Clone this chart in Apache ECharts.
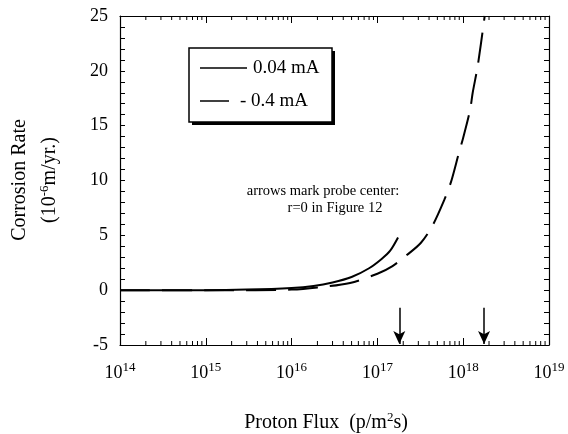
<!DOCTYPE html>
<html>
<head>
<meta charset="utf-8">
<script src="https://cdn.jsdelivr.net/npm/echarts@6/dist/echarts.min.js"></script>
<style>
  html, body { margin: 0; padding: 0; background: #fff; }
  #chart { width: 568px; height: 434px; }
</style>
</head>
<body>
<div id="chart"></div>
<script>
// proton flux (p/m^2 s) and corrosion rate (1e-6 m/yr)
const fluxLow = [1e14, 3e14, 1e15, 3e15, 1e16, 1.8e16, 3e16, 5e16, 8e16, 1.12e17, 1.41e17, 1.74e17]
const rateLow = [0, 0, 0, 0.05, 0.2, 0.38, 0.7, 1.2, 2.0, 2.85, 3.6, 4.8]

const fluxHigh = [1e14, 1e15, 3e15, 1e16, 2e16, 4.8e16, 1e17, 1.5e17, 2.2e17, 3.2e17, 4.4e17, 6e17, 7.2e17, 8.9e17, 1e18, 1.2e18, 1.29e18, 1.48e18, 1.78e18]
const rateHigh = [0, 0, 0, 0.05, 0.25, 0.66, 1.5, 2.2, 3.2, 4.3, 5.9, 8.2, 9.85, 12.5, 13.9, 16.4, 18.0, 20.5, 25]

const arrowFlux = [1.8e17, 1.75e18]
const arrowTop = -1.6
const arrowBottom = -4.9

const serif = 'Liberation Serif'

// log minor tick positions 2..9 x 10^n
const minorTicks = []
for (let e = 14; e < 19; e++) {
  for (let k = 2; k <= 9; k++) minorTicks.push([k * Math.pow(10, e), 0])
}

const chart = echarts.init(document.getElementById('chart'))

const xLabel = {
  fontFamily: serif,
  color: '#000',
  margin: 16,
  formatter: v => '{b|10}{s|' + Math.round(Math.log10(v)) + '}',
  rich: {
    b: {fontFamily: serif, fontSize: 18, lineHeight: 24, color: '#000'},
    s: {fontFamily: serif, fontSize: 13, lineHeight: 13, verticalAlign: 'top', color: '#000'},
  },
}

const option = {
  animation: false,
  grid: {left: 120, right: 19, top: 16, bottom: 89},
  xAxis: [
    {
      type: 'log',
      logBase: 10,
      min: 1e14,
      max: 1e19,
      axisLine: {onZero: false, lineStyle: {color: '#000', width: 1.2}},
      axisTick: {inside: true, length: 7, lineStyle: {color: '#000'}},
      axisLabel: xLabel,
      splitLine: {show: false},
    },
    {
      type: 'log',
      logBase: 10,
      min: 1e14,
      max: 1e19,
      position: 'top',
      axisLine: {onZero: false, lineStyle: {color: '#000', width: 1.2}},
      axisTick: {inside: true, length: 7, lineStyle: {color: '#000'}},
      axisLabel: {show: false},
      splitLine: {show: false},
    },
  ],
  yAxis: [
    {
      type: 'value',
      min: -5,
      max: 25,
      interval: 1,
      axisLine: {show: true, onZero: false, lineStyle: {color: '#000', width: 1.2}},
      axisTick: {inside: true, length: 5, lineStyle: {color: '#000'}},
      axisLabel: {
        fontFamily: serif, fontSize: 18, color: '#000', margin: 12,
        formatter: v => (v % 5 === 0 ? String(v) : ''),
      },
      splitLine: {show: false},
    },
    {
      type: 'value',
      min: -5,
      max: 25,
      interval: 1,
      position: 'right',
      axisLine: {show: true, onZero: false, lineStyle: {color: '#000', width: 1.2}},
      axisTick: {inside: true, length: 5, lineStyle: {color: '#000'}},
      axisLabel: {show: false},
      splitLine: {show: false},
    },
  ],
  series: [
    {
      name: '0.4 mA',
      type: 'line',
      data: fluxHigh.map((f, i) => [f, rateHigh[i]]),
      smooth: 0.3,
      symbol: 'none',
      lineStyle: {color: '#000', width: 2, type: [30, 12]},
      z: 3,
    },
    {
      name: '0.04 mA',
      type: 'line',
      data: fluxLow.map((f, i) => [f, rateLow[i]]),
      smooth: 0.3,
      symbol: 'none',
      lineStyle: {color: '#000', width: 2},
      z: 4,
    },
    {
      name: 'arrows',
      type: 'line',
      data: [],
      markLine: {
        silent: true,
        symbol: ['none', 'arrow'],
        symbolSize: [9, 13],
        label: {show: false},
        lineStyle: {color: '#000', width: 1.5, type: 'solid'},
        data: arrowFlux.map(f => [{coord: [f, arrowTop]}, {coord: [f, arrowBottom]}]),
      },
    },
    {
      name: 'minor',
      type: 'custom',
      silent: true,
      clip: false,
      data: minorTicks,
      renderItem: (params, api) => {
        const v = api.value(0)
        const pb = api.coord([v, -5])
        const pt = api.coord([v, 25])
        return {
          type: 'group',
          children: [
            {type: 'line', shape: {x1: pb[0], y1: pb[1], x2: pb[0], y2: pb[1] - 4}, style: {stroke: '#000', lineWidth: 1}},
            {type: 'line', shape: {x1: pt[0], y1: pt[1], x2: pt[0], y2: pt[1] + 4}, style: {stroke: '#000', lineWidth: 1}},
          ],
        }
      },
    },
  ],
  graphic: [
    // legend box with shadow
    {type: 'rect', shape: {x: 192, y: 51, width: 143, height: 74}, style: {fill: '#000'}, z: 10},
    {type: 'rect', shape: {x: 189, y: 48, width: 143, height: 74}, style: {fill: '#fff', stroke: '#000', lineWidth: 1.5}, z: 11},
    {type: 'line', shape: {x1: 200, y1: 68, x2: 247, y2: 68}, style: {stroke: '#000', lineWidth: 1.5}, z: 12},
    {type: 'text', x: 253, y: 68, style: {text: '0.04 mA', font: '19px "Liberation Serif"', fill: '#000', verticalAlign: 'middle'}, z: 12},
    {type: 'line', shape: {x1: 200, y1: 101, x2: 229, y2: 101}, style: {stroke: '#000', lineWidth: 1.5}, z: 12},
    {type: 'text', x: 240, y: 101, style: {text: '- 0.4 mA', font: '19px "Liberation Serif"', fill: '#000', verticalAlign: 'middle'}, z: 12},
    // annotation
    {type: 'text', x: 323, y: 191, style: {text: 'arrows mark probe center:', font: '14.5px "Liberation Serif"', fill: '#000', align: 'center', verticalAlign: 'middle'}},
    {type: 'text', x: 335, y: 208, style: {text: 'r=0 in Figure 12', font: '14.5px "Liberation Serif"', fill: '#000', align: 'center', verticalAlign: 'middle'}},
    // axis titles
    {
      type: 'text', x: 20, y: 180, rotation: Math.PI / 2,
      style: {text: 'Corrosion Rate', font: '20px "Liberation Serif"', fill: '#000', align: 'center', verticalAlign: 'middle'},
    },
    {
      type: 'text', x: 50, y: 180, rotation: Math.PI / 2,
      style: {
        text: '{n|(10}{s|-6}{n|m/yr.)}', align: 'center', verticalAlign: 'middle',
        rich: {
          n: {fontFamily: serif, fontSize: 20, lineHeight: 24, fill: '#000'},
          s: {fontFamily: serif, fontSize: 13, lineHeight: 13, verticalAlign: 'top', fill: '#000'},
        },
      },
    },
    {
      type: 'text', x: 326, y: 423,
      style: {
        text: '{n|Proton Flux  (p/m}{s|2}{n|s)}', align: 'center', verticalAlign: 'middle',
        rich: {
          n: {fontFamily: serif, fontSize: 20, lineHeight: 24, fill: '#000'},
          s: {fontFamily: serif, fontSize: 13, lineHeight: 13, verticalAlign: 'top', fill: '#000'},
        },
      },
    },
  ],
}

option && chart.setOption(option)
</script>
</body>
</html>
